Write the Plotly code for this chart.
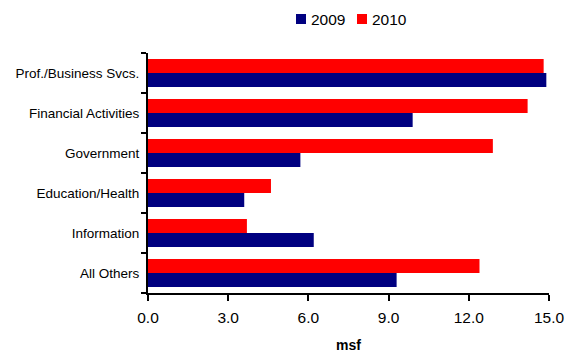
import plotly.graph_objects as go

categories = ["All Others", "Information", "Education/Health", "Government",
              "Financial Activities", "Prof./Business Svcs."]
series_names = ["2009", "2010"]
values_2009 = [9.3, 6.2, 3.6, 5.7, 9.9, 14.9]
values_2010 = [12.4, 3.7, 4.6, 12.9, 14.2, 14.8]
x_ticks = [0, 3, 6, 9, 12, 15]
colors = ["#000080", "#FF0000"]

fig = go.Figure()
for name, vals, col in zip(series_names, [values_2009, values_2010], colors):
    fig.add_trace(go.Bar(y=categories, x=vals, name=name, orientation="h",
                         marker=dict(color=col, line=dict(width=0))))

W, H = 577, 353
ml, mr, mt, mb = 148, 28, 53, 60
fig.update_layout(
    width=W, height=H,
    margin=dict(l=ml, r=mr, t=mt, b=mb, autoexpand=False),
    barmode="group", bargap=0.3, bargroupgap=0,
    plot_bgcolor="white", paper_bgcolor="white",
    showlegend=False,
    font=dict(family="Liberation Sans, Arial, sans-serif", color="black"),
    xaxis=dict(range=[0, 15], tickvals=x_ticks, tickformat=".1f",
               showgrid=False, zeroline=False, showline=True,
               linecolor="black", linewidth=2, ticks="outside", ticklen=6,
               tickwidth=2, tickcolor="black", tickfont=dict(size=15.5),
               ticklabelstandoff=3, automargin=False,
               title=dict(text="<b>msf</b>", font=dict(size=14), standoff=16)),
    yaxis=dict(categoryorder="array", categoryarray=categories,
               showgrid=False, zeroline=False, showline=True,
               linecolor="black", linewidth=2, ticks="outside", ticklen=5,
               tickwidth=2, tickcolor="black", tickson="boundaries",
               tickfont=dict(size=13.5), ticklabelstandoff=4, automargin=False),
)

# custom legend (squares + labels) at top
leg_x0 = [296, 357]
for i, (name, col) in enumerate(zip(series_names, colors)):
    x0 = leg_x0[i]
    fig.add_shape(type="rect", xref="paper", yref="paper",
                  x0=(x0 - ml) / (W - ml - mr), x1=(x0 + 10 - ml) / (W - ml - mr),
                  y0=(H - 24 - mb) / (H - mt - mb),
                  y1=(H - 14 - mb) / (H - mt - mb),
                  fillcolor=col, line=dict(width=0))
    fig.add_annotation(xref="paper", yref="paper",
                       x=(x0 + 13 - ml) / (W - ml - mr),
                       y=(H - 19 - mb) / (H - mt - mb),
                       text=name, showarrow=False, xanchor="left", yanchor="middle",
                       font=dict(size=15.5, color="black"))

fig.write_html("out.html")
